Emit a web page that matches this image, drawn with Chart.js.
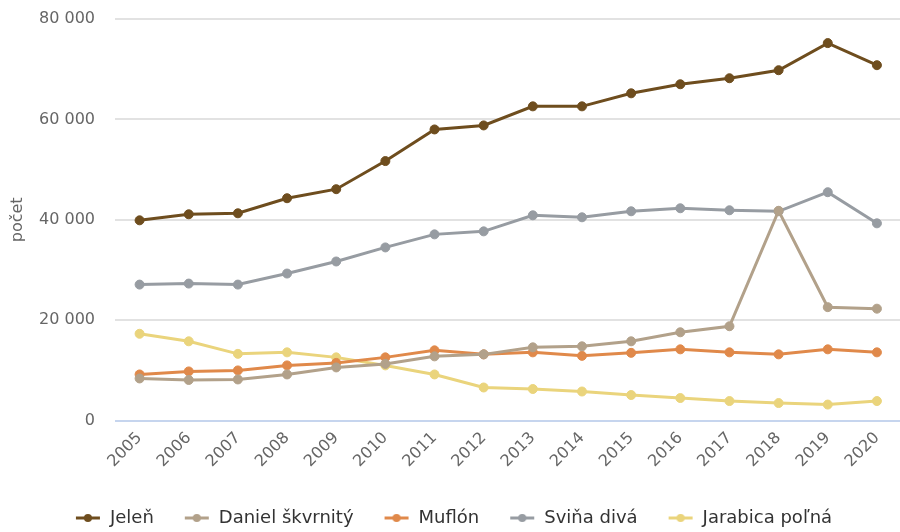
<!DOCTYPE html>
<html lang="sk">
<head>
    <meta charset="UTF-8"/>
    <title>Počet zveri</title>
    <script src="https://cdn.jsdelivr.net/npm/chart.js"></script>
    <style>
        html, body { margin: 0; padding: 0; background: #fff; overflow: hidden; }
        .wrap { position: relative; width: 907px; height: 532px; }
        canvas { display: block; }
    </style>
</head>
<body>
    <div class="wrap"><canvas id="chart" width="907" height="532"></canvas></div>

    <script>
        // data
        const years = ['2005', '2006', '2007', '2008', '2009', '2010', '2011', '2012',
                       '2013', '2014', '2015', '2016', '2017', '2018', '2019', '2020'];
        const jelen    = [39900, 41100, 41300, 44300, 46100, 51700, 58000, 58800, 62600, 62600, 65200, 67000, 68200, 69800, 75200, 70800];
        const daniel   = [8400, 8100, 8200, 9200, 10600, 11300, 12800, 13200, 14600, 14800, 15800, 17600, 18800, 41800, 22600, 22300];
        const muflon   = [9200, 9800, 10000, 11000, 11500, 12600, 14000, 13200, 13600, 12900, 13500, 14200, 13600, 13200, 14200, 13600];
        const svina    = [27100, 27300, 27100, 29300, 31700, 34500, 37100, 37700, 40900, 40500, 41700, 42300, 41900, 41700, 45500, 39300];
        const jarabica = [17300, 15800, 13300, 13600, 12600, 11000, 9200, 6600, 6300, 5800, 5100, 4500, 3900, 3500, 3200, 3900];
        const yTicks = [0, 20000, 40000, 60000, 80000];

        const FONT = "'DejaVu Sans', Verdana, sans-serif";

        // legend marker: short line with a dot in the middle
        function marker(color) {
            const c = document.createElement('canvas');
            c.width = 26; c.height = 10;
            const g = c.getContext('2d');
            g.strokeStyle = color; g.lineWidth = 3;
            g.beginPath(); g.moveTo(1, 5); g.lineTo(25, 5); g.stroke();
            g.fillStyle = color;
            g.beginPath(); g.arc(13, 5, 4, 0, Math.PI * 2); g.fill();
            return c;
        }

        function series(label, data, color) {
            return {
                label: label,
                data: data,
                borderColor: color,
                backgroundColor: color,
                borderWidth: 3,
                pointRadius: 4.5,
                pointBorderWidth: 1,
                pointHoverRadius: 4.5,
                tension: 0,
                fill: false,
                legendMarker: marker(color)
            };
        }

        const fmt = v => String(v).replace(/\B(?=(\d{3})+(?!\d))/g, ' ');

        new Chart(document.getElementById('chart'), {
            type: 'line',
            data: {
                labels: years,
                datasets: [
                    series('Jeleň', jelen, '#6e4d1e'),
                    series('Daniel škvrnitý', daniel, '#b2a18a'),
                    series('Muflón', muflon, '#e0894a'),
                    series('Sviňa divá', svina, '#979ca2'),
                    series('Jarabica poľná', jarabica, '#ead47c')
                ]
            },
            options: {
                responsive: false,
                animation: false,
                devicePixelRatio: 1,
                layout: { padding: { top: 0, right: 0, left: 0, bottom: -5 } },
                plugins: {
                    tooltip: { enabled: false },
                    legend: {
                        position: 'bottom',
                        labels: {
                            usePointStyle: true,
                            pointStyleWidth: 26,
                            padding: 30,
                            color: '#333',
                            font: { family: FONT, size: 18 },
                            generateLabels: chart => chart.data.datasets.map((ds, i) => ({
                                text: ds.label,
                                fillStyle: ds.borderColor,
                                strokeStyle: ds.borderColor,
                                pointStyle: ds.legendMarker,
                                fontColor: '#333',
                                lineWidth: 0,
                                hidden: false,
                                datasetIndex: i
                            }))
                        }
                    }
                },
                scales: {
                    x: {
                        offset: true,
                        grid: { display: false, drawTicks: false },
                        border: { display: false },
                        ticks: {
                            color: '#666',
                            font: { family: FONT, size: 16 },
                            maxRotation: 45,
                            minRotation: 45,
                            padding: 8
                        }
                    },
                    y: {
                        min: 0,
                        max: 80000,
                        afterFit: s => { s.width = 115; s.paddingTop = 19; s.paddingBottom = 10; },
                        afterBuildTicks: s => { s.ticks = yTicks.map(v => ({ value: v })); },
                        grid: {
                            color: ctx => ctx.tick && ctx.tick.value === 0 ? '#c6d5ee' : '#e2e2e2',
                            lineWidth: 2,
                            drawTicks: false
                        },
                        border: { display: false },
                        ticks: {
                            color: '#666',
                            font: { family: FONT, size: 16 },
                            padding: 20,
                            callback: v => fmt(v)
                        },
                        title: {
                            display: true,
                            text: 'počet',
                            color: '#666',
                            font: { family: FONT, size: 16 },
                            padding: 8
                        }
                    }
                }
            }
        });
    </script>
</body>
</html>
